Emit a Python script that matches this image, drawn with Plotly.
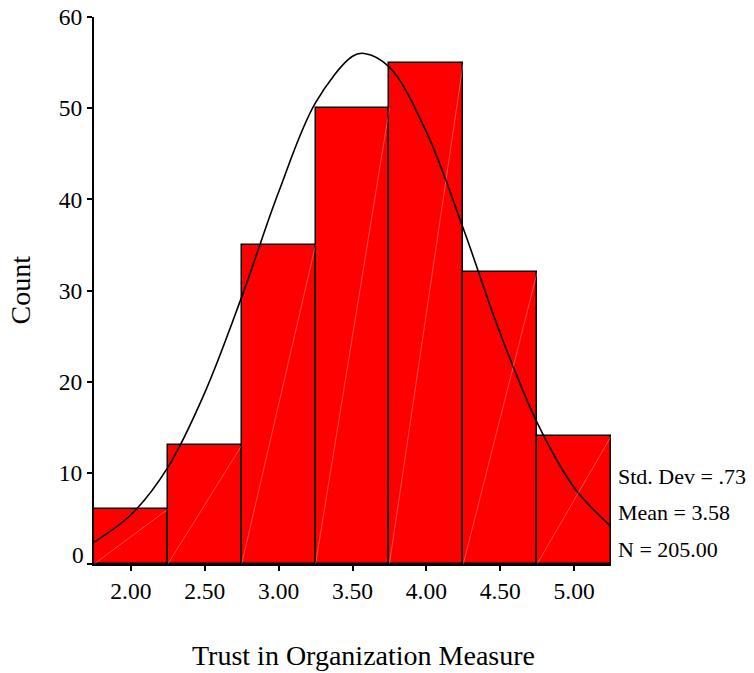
import plotly.graph_objects as go

bin_centers = [2.00, 2.50, 3.00, 3.50, 4.00, 4.50, 5.00]
counts = [6, 13, 35, 50, 55, 32, 14]
bin_width = 0.5

curve_x = [1.75, 2.00, 2.25, 2.50, 2.75, 3.00, 3.25, 3.50, 3.58, 3.75, 4.00, 4.25, 4.50, 4.75, 5.00, 5.25]
curve_y = [2.4, 5.4, 10.6, 18.8, 29.3, 40.8, 50.6, 55.7, 56.0, 54.5, 47.4, 36.8, 25.3, 15.5, 8.4, 4.1]

x_ticks = [2.00, 2.50, 3.00, 3.50, 4.00, 4.50, 5.00]
x_ticklabels = ["2.00", "2.50", "3.00", "3.50", "4.00", "4.50", "5.00"]
y_ticks = [0, 10, 20, 30, 40, 50, 60]
y_ticklabels = ["", "10", "20", "30", "40", "50", "60"]  # "0" drawn separately, raised

stats_lines = ["Std. Dev = .73", "Mean = 3.58", "N = 205.00"]
x_title = "Trust in Organization Measure"
y_title = "Count"

FONT = "Liberation Serif, Times New Roman, serif"
W, H = 754, 673
plot_left, plot_right, plot_top, plot_bottom = 94, 611, 17, 564

fig = go.Figure()
fig.add_trace(go.Bar(
    x=bin_centers, y=counts, width=bin_width,
    marker=dict(color="#ff0000", line=dict(color="black", width=1.5)),
    hoverinfo="skip", showlegend=False,
))

# faint diagonal rendering streaks inside each bar
for c, h in zip(bin_centers, counts):
    fig.add_shape(type="line", xref="x", yref="y",
                  x0=c - bin_width / 2, y0=0, x1=c + bin_width / 2, y1=h,
                  line=dict(color="rgba(255,255,255,0.3)", width=1), layer="above")

fig.add_trace(go.Scatter(
    x=curve_x, y=curve_y, mode="lines", line=dict(color="black", width=1.6, shape="spline"),
    hoverinfo="skip", showlegend=False,
))

for i, t in enumerate(stats_lines):
    py = 476 + 36.5 * i
    fig.add_annotation(text=t, xref="paper", yref="paper", x=1.0, xshift=5,
                       y=(plot_bottom - py) / (plot_bottom - plot_top),
                       xanchor="left", yanchor="middle", showarrow=False,
                       font=dict(family=FONT, size=22, color="black"))

# raised zero label on the y axis
fig.add_annotation(text=str(y_ticks[0]), xref="paper", yref="y", x=0, y=y_ticks[0],
                   xshift=-8, yshift=9, xanchor="right", yanchor="middle", showarrow=False,
                   font=dict(family=FONT, size=23.5, color="black"))

# axis titles
fig.add_annotation(text=x_title, xref="paper", yref="paper", x=0.5, y=0, xshift=11,
                   yshift=-(655 - plot_bottom), xanchor="center", yanchor="middle",
                   showarrow=False, font=dict(family=FONT, size=28, color="black"))
fig.add_annotation(text=y_title, xref="paper", yref="paper", x=0, y=0.5, textangle=-90,
                   xshift=-(plot_left - 20), yshift=0, xanchor="center", yanchor="middle",
                   showarrow=False, font=dict(family=FONT, size=28, color="black"))

fig.update_layout(
    width=W, height=H,
    margin=dict(l=plot_left, r=W - plot_right, t=plot_top, b=H - plot_bottom),
    paper_bgcolor="white", plot_bgcolor="white",
    font=dict(family=FONT, size=24, color="black"),
    bargap=0,
    xaxis=dict(range=[1.75, 5.25], tickvals=x_ticks, ticktext=x_ticklabels, automargin=False,
               showgrid=False, zeroline=False, showline=True, linecolor="black", linewidth=2,
               ticks="outside", ticklen=5, tickwidth=2, tickcolor="black",
               tickfont=dict(family=FONT, size=23.5), fixedrange=True),
    yaxis=dict(range=[0, 60], tickvals=y_ticks, ticktext=y_ticklabels, automargin=False,
               showgrid=False, zeroline=False, showline=True, linecolor="black", linewidth=2,
               ticks="outside", ticklen=5, tickwidth=2, tickcolor="black",
               tickfont=dict(family=FONT, size=23.5), fixedrange=True),
)

fig.write_html("out.html")
